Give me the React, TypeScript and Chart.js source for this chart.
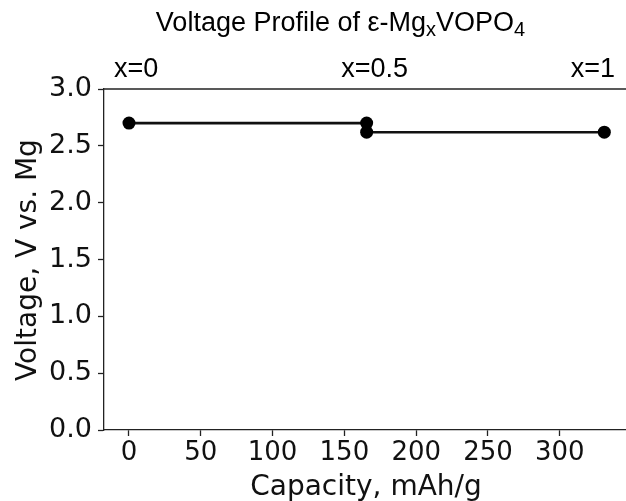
import React, { useEffect, useRef } from 'react';
import { Chart, registerables } from 'chart.js';

Chart.register(...registerables);

// Data
const capacityStep1 = [0, 165.5];
const voltageStep1 = [2.7, 2.7];
const capacityStep2 = [165.5, 331];
const voltageStep2 = [2.62, 2.62];
const xTickValues = [0, 50, 100, 150, 200, 250, 300];
const yTickValues = [0, 0.5, 1, 1.5, 2, 2.5, 3];
const compositionLabels = ['x=0', 'x=0.5', 'x=1'];
const compositionAt = [5, 171, 323];

const SANS = '"Liberation Sans", Arial, Helvetica, sans-serif';
const DEJAVU = '"DejaVu Sans", sans-serif';

const overlay = {
  id: 'overlay',
  afterDraw(chart: any) {
    const { ctx, chartArea, scales } = chart;
    ctx.save();
    // top spine
    ctx.strokeStyle = '#222';
    ctx.lineWidth = 1.3;
    ctx.beginPath();
    ctx.moveTo(chartArea.left, chartArea.top);
    ctx.lineTo(chartArea.right, chartArea.top);
    ctx.stroke();

    // title with subscripts
    const parts: [string, boolean][] = [
      ['Voltage Profile of ε-Mg', false],
      ['x', true],
      ['VOPO', false],
      ['4', true],
    ];
    const mainFont = `27px ${SANS}`;
    const subFont = `20px ${SANS}`;
    let total = 0;
    for (const [t, s] of parts) {
      ctx.font = s ? subFont : mainFont;
      total += ctx.measureText(t).width;
    }
    let tx = 340.5 - total / 2;
    ctx.fillStyle = '#000';
    ctx.textAlign = 'left';
    ctx.textBaseline = 'alphabetic';
    for (const [t, s] of parts) {
      ctx.font = s ? subFont : mainFont;
      ctx.fillText(t, tx, s ? 36 : 31);
      tx += ctx.measureText(t).width;
    }

    // composition labels
    ctx.font = `27px ${SANS}`;
    ctx.textAlign = 'center';
    compositionLabels.forEach((lab, i) => {
      ctx.fillText(lab, scales.x.getPixelForValue(compositionAt[i]), 77);
    });

    // axis titles
    ctx.font = `28px ${DEJAVU}`;
    ctx.fillStyle = '#111';
    ctx.textAlign = 'center';
    ctx.fillText('Capacity, mAh/g', 366, 495);
    ctx.translate(36, 260);
    ctx.rotate(-Math.PI / 2);
    ctx.fillText('Voltage, V vs. Mg', 0, 0);
    ctx.restore();
  },
};

export default function App() {
  const ref = useRef<HTMLCanvasElement>(null);
  useEffect(() => {
    if (!ref.current) return;
    const lineStyle = {
      borderColor: '#111',
      backgroundColor: '#000',
      borderWidth: 2.6,
      pointRadius: 6.5,
      pointBackgroundColor: '#000',
      pointBorderColor: '#000',
      pointBorderWidth: 0,
      showLine: true,
    };
    const chart = new Chart(ref.current, {
      type: 'scatter',
      data: {
        datasets: [
          { ...lineStyle, data: capacityStep1.map((x, i) => ({ x, y: voltageStep1[i] })) },
          { ...lineStyle, data: capacityStep2.map((x, i) => ({ x, y: voltageStep2[i] })) },
        ],
      },
      options: {
        animation: false,
        responsive: false,
        layout: { autoPadding: false, padding: { top: 89, right: 0, left: 0, bottom: 0 } },
        plugins: { legend: { display: false }, tooltip: { enabled: false }, title: { display: false } },
        scales: {
          x: {
            type: 'linear',
            min: -17.4,
            max: 346.1,
            afterBuildTicks: (s: any) => {
              s.ticks = xTickValues.map((v) => ({ value: v }));
            },
            afterFit: (s: any) => {
              s.height = 71;
              s.paddingLeft = 0;
              s.paddingRight = 0;
            },
            grid: { display: true, drawOnChartArea: false, drawTicks: true, tickLength: 6, tickColor: '#222', tickWidth: 1.3 },
            border: { display: true, color: '#222', width: 1.3 },
            ticks: {
              color: '#111',
              font: { family: 'DejaVu Sans', size: 26 },
              padding: 2,
              maxRotation: 0,
              autoSkip: false,
              callback: (v: any) => String(v),
            },
          },
          y: {
            type: 'linear',
            min: 0,
            max: 3,
            afterBuildTicks: (s: any) => {
              s.ticks = yTickValues.map((v) => ({ value: v }));
            },
            afterFit: (s: any) => {
              s.width = 104;
              s.paddingTop = 0;
              s.paddingBottom = 0;
            },
            grid: { display: true, drawOnChartArea: false, drawTicks: true, tickLength: 6, tickColor: '#222', tickWidth: 1.3 },
            border: { display: true, color: '#222', width: 1.3 },
            ticks: {
              color: '#111',
              font: { family: 'DejaVu Sans', size: 27 },
              padding: 6,
              autoSkip: false,
              callback: (v: any) => Number(v).toFixed(1),
            },
          },
        },
      },
      plugins: [overlay],
    });
    return () => chart.destroy();
  }, []);
  return (
    <div style={{ position: 'fixed', left: 0, top: 0, width: 626, height: 501, overflow: 'hidden', background: '#fff' }}>
      <canvas ref={ref} width={626} height={501} style={{ display: 'block', width: 626, height: 501 }} />
    </div>
  );
}
